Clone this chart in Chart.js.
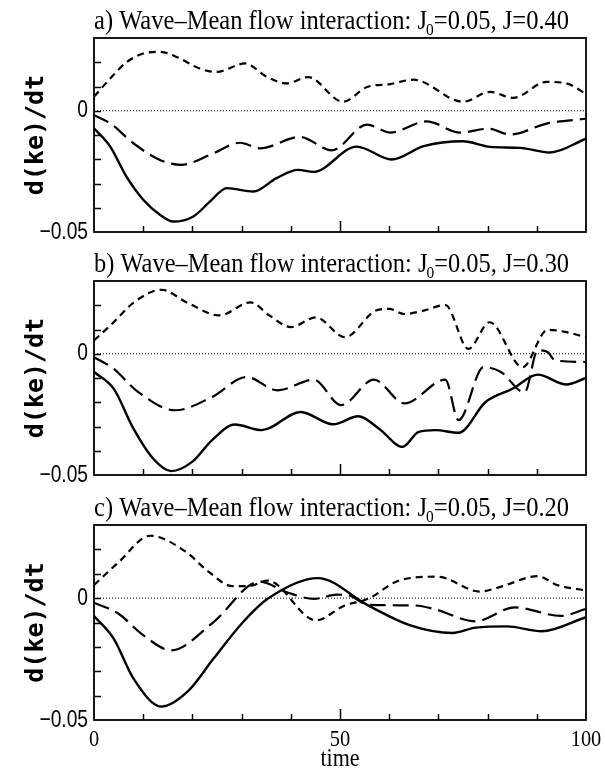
<!DOCTYPE html>
<html>
<head>
<meta charset="utf-8">
<script src="https://cdn.jsdelivr.net/npm/chart.js@4.4.1/dist/chart.umd.min.js"></script>
<style>
  html, body { margin: 0; padding: 0; background: #fff; }
  #wrap { position: relative; width: 605px; height: 772px; background: #fff; overflow: hidden; }
  .panel { position: absolute; left: 0; width: 605px; }
  canvas { display: block; }
</style>
</head>
<body>
<div id="wrap">
  <div class="panel" style="top:0px;height:244px"><canvas id="pa" width="605" height="244"></canvas></div>
  <div class="panel" style="top:244px;height:244px"><canvas id="pb" width="605" height="244"></canvas></div>
  <div class="panel" style="top:488px;height:284px"><canvas id="pc" width="605" height="284"></canvas></div>
</div>
<script>
// ---- titles and tick labels ----
const panelLetters = ['a)', 'b)', 'c)'];
const j0Value = '0.05';
const jValues = ['0.40', '0.30', '0.20'];
const yAxisTitle = 'd(ke)/dt';
const xAxisTitle = 'time';
const yLabelValues = [0, -0.05];
const yLabelTexts = ['0', '\u22120.05'];
const xLabelValues = [0, 50, 100];
const xLabelTexts = ['0', '50', '100'];

// ---- panel a: J = 0.40 ----
const aSolidT = [0, 3.3, 6.6, 10, 13.4, 16.1, 20.2, 23.6, 27, 32.4, 37.1, 41.5, 44.6, 53.4, 60.5, 67, 75, 80.5, 86.6, 92.7, 100];
const aSolidV = [-0.0072, -0.0148, -0.0272, -0.0367, -0.0429, -0.0457, -0.0436, -0.0374, -0.0319, -0.0333, -0.0278, -0.0244, -0.0252, -0.0148, -0.0201, -0.0146, -0.0126, -0.0149, -0.0153, -0.0172, -0.0115];
const aLongT = [0, 3.3, 8, 13.4, 17.7, 23.6, 29.7, 33.7, 41.9, 48.3, 55.5, 60.2, 67.6, 74.4, 80.2, 84.6, 92, 100];
const aLongV = [-0.0018, -0.0052, -0.0134, -0.0203, -0.0223, -0.0182, -0.0132, -0.0155, -0.0108, -0.0163, -0.0057, -0.0090, -0.0044, -0.0090, -0.0074, -0.0098, -0.0053, -0.0033];
const aShortT = [0, 3.3, 6.6, 10, 13.4, 16.8, 21.5, 24.9, 30.7, 35.1, 39.2, 43.5, 50.6, 55.5, 60.2, 64.9, 75, 80.5, 85.2, 92, 96, 100];
const aShortV = [0.0058, 0.0133, 0.0200, 0.0236, 0.0243, 0.0222, 0.0174, 0.0160, 0.0195, 0.0140, 0.0113, 0.0139, 0.0037, 0.0098, 0.0110, 0.0128, 0.0037, 0.0078, 0.0053, 0.0119, 0.0113, 0.0070];

// ---- panel b: J = 0.30 ----
const bSolidT = [0, 4, 8, 12, 15.7, 20, 24, 28.6, 34.1, 42, 48.6, 53.7, 58, 62.7, 66, 69.4, 74.1, 79.6, 85.1, 90.2, 96, 100];
const bSolidV = [-0.0075, -0.0144, -0.0308, -0.0432, -0.0484, -0.0445, -0.0356, -0.0292, -0.0315, -0.0240, -0.0291, -0.0258, -0.0310, -0.0384, -0.0322, -0.0315, -0.0326, -0.0199, -0.0144, -0.0086, -0.0127, -0.0100];
const bLongT = [0, 4, 9, 16.5, 24, 31, 37.3, 44.7, 50.2, 56.9, 63.1, 71.4, 74.1, 79.2, 82.7, 87.5, 90.2, 92.2, 93.7, 100];
const bLongV = [-0.0014, -0.0062, -0.0158, -0.0233, -0.0178, -0.0096, -0.0151, -0.0107, -0.0212, -0.0107, -0.0205, -0.0107, -0.0274, -0.0055, -0.0075, -0.0160, 0.0014, 0.0007, -0.0027, -0.0034];
const bShortT = [0, 4, 8, 13.7, 19, 25.5, 31.8, 35.7, 40, 45.1, 51, 57.3, 60, 63.1, 67, 71.4, 76.1, 80.4, 87.1, 92.2, 96, 100];
const bShortV = [0.0055, 0.0130, 0.0210, 0.0264, 0.0210, 0.0158, 0.0212, 0.0157, 0.0110, 0.0150, 0.0068, 0.0178, 0.0185, 0.0164, 0.0178, 0.0201, 0.0020, 0.0130, -0.0055, 0.0099, 0.0089, 0.0068];

// ---- panel c: J = 0.20 ----
const cSolidT = [0, 4, 8, 13.7, 19, 24.3, 30, 35.3, 45.5, 55.7, 64.3, 72.9, 77.6, 83.9, 91, 100];
const cSolidV = [-0.0073, -0.0166, -0.0329, -0.0445, -0.0384, -0.0248, -0.0105, -0.0003, 0.0082, -0.0030, -0.0112, -0.0143, -0.0121, -0.0116, -0.0136, -0.0078];
const cLongT = [0, 5, 10, 15.7, 24.3, 33.7, 39.2, 44.7, 49.4, 51.8, 55.7, 65.1, 69, 77.6, 85.5, 94.9, 100];
const cLongV = [-0.0019, -0.0064, -0.0152, -0.0214, -0.0098, 0.0068, 0.0024, -0.0003, 0.0014, 0.0011, -0.0027, -0.0030, -0.0044, -0.0095, -0.0038, -0.0073, -0.0044];
const cShortT = [0, 5, 11.4, 18.8, 23, 28.2, 31.4, 35.3, 45.1, 51, 55.7, 62, 69.8, 78.4, 82.4, 90.2, 94.1, 100];
const cShortV = [0.0054, 0.0147, 0.0256, 0.0188, 0.0113, 0.0049, 0.0049, 0.0072, -0.0091, -0.0030, -0.0003, 0.0072, 0.0088, 0.0027, 0.0045, 0.0090, 0.0054, 0.0031];

const reference = [0, 100]; // horizontal zero line span

function pts(t, v) { return t.map((x, i) => ({ x: x, y: v[i] })); }

const SERIF = '"Liberation Serif", "DejaVu Serif", serif';
const SANS = '"Liberation Sans", Arial, sans-serif';
const MONO = '"DejaVu Sans Mono", "Liberation Mono", monospace';

// Frame, inward ticks, labels and titles for one panel
function panelDecor(cfg) {
  return {
    id: 'panelDecor',
    afterDatasetsDraw(chart) {
      const ctx = chart.ctx;
      const a = chart.chartArea;
      const xs = chart.scales.x, ys = chart.scales.y;
      ctx.save();
      ctx.strokeStyle = '#000';
      ctx.fillStyle = '#000';

      // plot box
      ctx.lineWidth = 1.8;
      ctx.strokeRect(a.left, a.top, a.right - a.left, a.bottom - a.top);

      // inward tick marks
      ctx.lineWidth = 1.5;
      ctx.beginPath();
      ys.ticks.forEach(tk => {
        if (tk.value <= ys.min + 1e-9 || tk.value >= ys.max - 1e-9) return;
        const y = Math.round(ys.getPixelForValue(tk.value)) + 0.5;
        ctx.moveTo(a.left, y); ctx.lineTo(a.left + 7, y);
      });
      xs.ticks.forEach(tk => {
        if (tk.value <= xs.min + 1e-9 || tk.value >= xs.max - 1e-9) return;
        const x = Math.round(xs.getPixelForValue(tk.value)) + 0.5;
        const len = Math.abs(tk.value - 50) < 1e-9 ? 11 : 6;
        ctx.moveTo(x, a.bottom); ctx.lineTo(x, a.bottom - len);
      });
      ctx.stroke();

      // y tick labels
      ctx.textAlign = 'right';
      ctx.textBaseline = 'middle';
      ctx.font = '24px ' + SANS;
      yLabelValues.forEach((v, i) => {
        const y = ys.getPixelForValue(v);
        ctx.save();
        ctx.translate(a.left - 6, y);
        ctx.scale(0.8, 1);
        ctx.fillText(yLabelTexts[i], 0, 0);
        ctx.restore();
      });

      // x tick labels and axis title (bottom panel only)
      if (cfg.showX) {
        ctx.textAlign = 'center';
        ctx.textBaseline = 'alphabetic';
        ctx.font = '24px ' + SERIF;
        xLabelValues.forEach((v, i) => {
          const x = xs.getPixelForValue(v);
          ctx.save();
          ctx.translate(x, a.bottom + 26);
          ctx.scale(0.85, 1);
          ctx.fillText(xLabelTexts[i], 0, 0);
          ctx.restore();
        });
        ctx.save();
        ctx.translate((a.left + a.right) / 2, a.bottom + 46);
        ctx.scale(0.88, 1);
        ctx.font = '25px ' + SERIF;
        ctx.fillText(xAxisTitle, 0, 0);
        ctx.restore();
      }

      // y axis title
      ctx.save();
      ctx.translate(36, (a.top + a.bottom) / 2);
      ctx.rotate(-Math.PI / 2);
      ctx.textAlign = 'center';
      ctx.textBaseline = 'middle';
      ctx.font = 'bold 25px ' + MONO;
      ctx.fillText(yAxisTitle, 0, 0);
      ctx.restore();

      // panel title with subscript
      const s1 = cfg.letter + ' Wave\u2013Mean flow interaction: J';
      const sub = '0';
      const s2 = '=' + j0Value + ', J=' + cfg.j;
      ctx.textAlign = 'left';
      ctx.textBaseline = 'alphabetic';
      const big = '27px ' + SERIF, small = '17px ' + SERIF;
      ctx.font = big; const w1 = ctx.measureText(s1).width;
      ctx.font = small; const ws = ctx.measureText(sub).width;
      ctx.font = big; const w2 = ctx.measureText(s2).width;
      const target = 476;
      const sx = target / (w1 + ws + w2);
      ctx.save();
      ctx.translate(a.left, a.top - 9);
      ctx.scale(sx, 1);
      ctx.font = big; ctx.fillText(s1, 0, 0);
      ctx.font = small; ctx.fillText(sub, w1 - 1, 6);
      ctx.font = big; ctx.fillText(s2, w1 + ws - 1, 0);
      ctx.restore();

      ctx.restore();
    }
  };
}

function makePanel(cfg) {
  const canvas = document.getElementById(cfg.id);
  const base = { borderColor: '#000', backgroundColor: '#000', fill: false, pointRadius: 0, cubicInterpolationMode: 'monotone' };
  new Chart(canvas, {
    type: 'line',
    data: {
      datasets: [
        Object.assign({}, base, { data: pts(reference, [0, 0]), borderWidth: 1, borderDash: [1, 2], cubicInterpolationMode: 'default', tension: 0 }),
        Object.assign({}, base, { data: pts(cfg.solidT, cfg.solidV), borderWidth: 2.4 }),
        Object.assign({}, base, { data: pts(cfg.longT, cfg.longV), borderWidth: 2.2, borderDash: [16, 7] }),
        Object.assign({}, base, { data: pts(cfg.shortT, cfg.shortV), borderWidth: 2.2, borderDash: [7, 5] })
      ]
    },
    options: {
      responsive: false,
      animation: false,
      devicePixelRatio: 1,
      layout: { padding: { left: 0, right: 19, top: cfg.areaTop, bottom: 0 } },
      plugins: { legend: { display: false }, tooltip: { enabled: false }, title: { display: false } },
      scales: {
        x: {
          type: 'linear', min: 0, max: 100,
          ticks: { stepSize: 10, display: false },
          grid: { display: false, drawTicks: false },
          border: { display: false },
          afterFit: s => { s.height = cfg.height - cfg.areaBottom; }
        },
        y: {
          type: 'linear', min: -0.05, max: 0.03,
          ticks: { stepSize: 0.01, display: false },
          grid: { display: false, drawTicks: false },
          border: { display: false },
          afterFit: s => { s.width = 94; }
        }
      }
    },
    plugins: [panelDecor(cfg)]
  });
}

makePanel({ id: 'pa', height: 244, areaTop: 38, areaBottom: 232, letter: panelLetters[0], j: jValues[0], showX: false,
  solidT: aSolidT, solidV: aSolidV, longT: aLongT, longV: aLongV, shortT: aShortT, shortV: aShortV });
makePanel({ id: 'pb', height: 244, areaTop: 37, areaBottom: 231, letter: panelLetters[1], j: jValues[1], showX: false,
  solidT: bSolidT, solidV: bSolidV, longT: bLongT, longV: bLongV, shortT: bShortT, shortV: bShortV });
makePanel({ id: 'pc', height: 284, areaTop: 37, areaBottom: 232, letter: panelLetters[2], j: jValues[2], showX: true,
  solidT: cSolidT, solidV: cSolidV, longT: cLongT, longV: cLongV, shortT: cShortT, shortV: cShortV });
</script>
</body>
</html>
